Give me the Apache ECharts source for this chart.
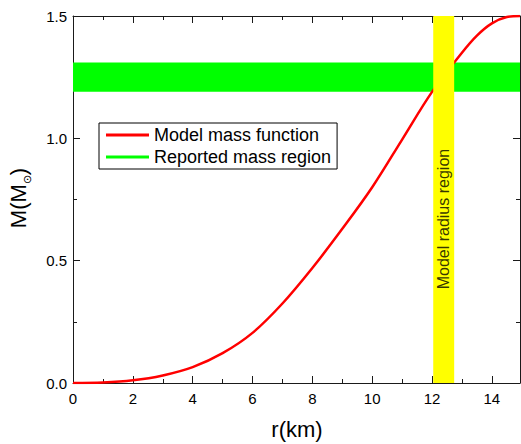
<!DOCTYPE html>
<html>
<head>
<meta charset="utf-8">
<script src="https://cdn.jsdelivr.net/npm/echarts@6/dist/echarts.min.js"></script>
<style>
  html, body { margin: 0; padding: 0; background: #fff; }
  #chart { width: 521px; height: 444px; }
</style>
</head>
<body>
<div id="chart"></div>
<script>
// Enclosed mass M(r) in solar masses against radius r in km
const radiusKm = [0, 1, 2, 3, 4, 5, 6, 7, 8, 9, 10, 11, 12, 13, 13.5, 14, 14.5, 14.94];
const massSolar = [0, 0.002, 0.011, 0.031, 0.065, 0.122, 0.205, 0.325, 0.47, 0.63, 0.80, 0.995, 1.19, 1.35, 1.42, 1.47, 1.496, 1.5];

// Observational windows
const reportedMassRange = [1.19, 1.31];
const modelRadiusRange = [12.04, 12.74];

// Axis settings
const xRange = [0, 14.94];
const yRange = [0, 1.5];
const xMajorStep = 2;
const yMajorStep = 0.5;

const seriesNames = ['Model mass function', 'Reported mass region', 'Model radius region'];
const xTitle = 'r(km)';
const yTitle = '{m|M(M}{s|\u2299}{m|)}';

const FONT = '"Liberation Sans", Arial, sans-serif';
const AXIS_COLOR = '#1a1a1a';
const LEGEND_ICON = 'path://M0,0H43V3H0Z';

const curve = radiusKm.map((r, i) => [r, massSolar[i]]);

// Frame axes: major ticks (labels on the bottom one) plus companion axes for the minor ticks
function xAxisDef(position, step, tickLen, withLine, withLabels) {
  return {
    type: 'value',
    position: position,
    min: xRange[0],
    max: xRange[1],
    interval: step,
    axisLine: { show: withLine, onZero: false, lineStyle: { color: AXIS_COLOR, width: 1 } },
    axisTick: { show: true, inside: true, length: tickLen, lineStyle: { color: AXIS_COLOR, width: 1 } },
    axisLabel: { show: withLabels, showMaxLabel: false, margin: 8, color: '#000', fontSize: 15, fontFamily: FONT },
    splitLine: { show: false }
  };
}

function yAxisDef(position, withLabels) {
  return {
    type: 'value',
    position: position,
    min: yRange[0],
    max: yRange[1],
    interval: yMajorStep,
    axisLine: { show: true, onZero: false, lineStyle: { color: AXIS_COLOR, width: 1 } },
    axisTick: { show: true, inside: true, length: 7, lineStyle: { color: AXIS_COLOR, width: 1 } },
    minorTick: { show: true, splitNumber: 2, length: 4, lineStyle: { color: AXIS_COLOR, width: 1 } },
    axisLabel: { show: withLabels, margin: 6, color: '#000', fontSize: 15, fontFamily: FONT, formatter: v => v.toFixed(1) },
    splitLine: { show: false },
    minorSplitLine: { show: false }
  };
}

// SVG output paints every element in one pass
const chart = echarts.init(document.getElementById('chart'), null, { renderer: 'svg' });
chart.setOption({
  animation: false,
  grid: { left: 73, right: 1, top: 16, bottom: 61, containLabel: false },
  legend: {
    data: [seriesNames[0], seriesNames[1]],
    orient: 'vertical',
    left: 99,
    top: 123,
    padding: [3, 6, 3, 7],
    itemGap: 4,
    itemWidth: 43,
    itemHeight: 15,
    icon: LEGEND_ICON,
    borderColor: '#000',
    borderWidth: 1,
    textStyle: { fontSize: 18, color: '#000', fontFamily: FONT }
  },
  // Axis titles
  graphic: [
    {
      type: 'text',
      x: 297,
      y: 429,
      silent: true,
      style: { text: xTitle, align: 'center', verticalAlign: 'middle', fill: '#000', font: '22px "Liberation Sans", Arial, sans-serif' }
    },
    {
      type: 'text',
      x: 18,
      y: 198,
      rotation: Math.PI / 2,
      silent: true,
      style: {
        text: yTitle,
        align: 'center',
        verticalAlign: 'middle',
        fill: '#000',
        rich: {
          m: { fontSize: 22, fill: '#000', fontFamily: FONT },
          s: { fontSize: 11, fill: '#000', fontFamily: FONT, verticalAlign: 'bottom', padding: [0, 0, -3, 0] }
        }
      }
    }
  ],
  xAxis: [
    xAxisDef('bottom', xMajorStep, 7, true, true),
    xAxisDef('bottom', 1, 4, false, false),
    xAxisDef('top', xMajorStep, 7, true, false),
    xAxisDef('top', 1, 4, false, false)
  ],
  yAxis: [yAxisDef('left', true), yAxisDef('right', false)],
  series: [
    {
      name: seriesNames[0],
      type: 'line',
      data: curve,
      smooth: 0.35,
      symbol: 'none',
      color: '#ff0000',
      lineStyle: { width: 2.5 }
    },
    {
      name: seriesNames[1],
      type: 'line',
      data: [],
      symbol: 'none',
      color: '#00ff00',
      markArea: {
        silent: true,
        z: 1,
        itemStyle: { color: '#00ff00', opacity: 1 },
        data: [[{ yAxis: reportedMassRange[0] }, { yAxis: reportedMassRange[1] }]]
      }
    },
    {
      name: seriesNames[2],
      type: 'scatter',
      symbolSize: 0,
      z: 6,
      data: [[(modelRadiusRange[0] + modelRadiusRange[1]) / 2, 0.67]],
      label: {
        show: true,
        position: 'inside',
        rotate: 90,
        formatter: seriesNames[2],
        color: '#000',
        fontSize: 16,
        fontFamily: FONT
      },
      markArea: {
        silent: true,
        z: 4,
        itemStyle: { color: '#ffff00', opacity: 1 },
        data: [[{ xAxis: modelRadiusRange[0] }, { xAxis: modelRadiusRange[1] }]]
      }
    }
  ]
});
</script>
</body>
</html>
